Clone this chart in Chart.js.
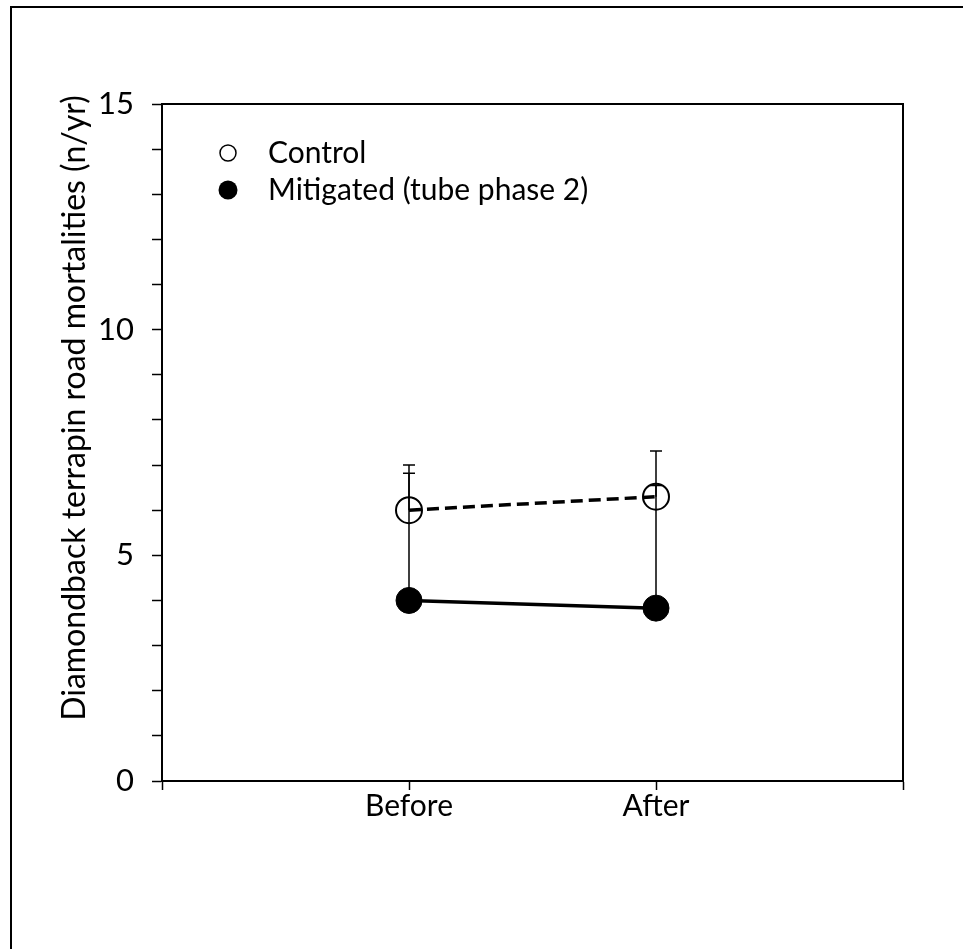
<!DOCTYPE html>
<html>
<head>
<meta charset="utf-8">
<script src="https://cdn.jsdelivr.net/npm/chart.js@4/dist/chart.umd.min.js"></script>
<style>
  html, body { margin: 0; padding: 0; background: #fff; }
  canvas { display: block; }
</style>
</head>
<body>
<canvas id="grafico" width="963" height="949"></canvas>
<script>
// dados
const categorias = ['Before', 'After']
const posicoesX = [1, 2]
const controle = [6.0, 6.3]
const controleErro = [1.0, 0.25]
const mitigado = [4.0, 3.83]
const mitigadoErro = [2.82, 3.48]
const ticksY = [0, 5, 10, 15]
const nomeSeries = ['Control', 'Mitigated (tube phase 2)']
const tituloY = 'Diamondback terrapin road mortalities (n/yr)'

const fonte = 'Lato'

function pontos(valores){
    return valores.map((v, i) => ({x: posicoesX[i], y: v}))
}

// barras de erro (só para cima) + moldura do gráfico + legenda + título do eixo Y
const extras = {
    id: 'extras',
    beforeDatasetsDraw(chart){
        const ctx = chart.ctx
        const xs = chart.scales.x
        const ys = chart.scales.y
        ctx.save()
        ctx.strokeStyle = '#000'
        ctx.lineWidth = 1.5
        chart.data.datasets.forEach(ds => {
            ds.data.forEach((p, i) => {
                const px = xs.getPixelForValue(p.x)
                const y0 = ys.getPixelForValue(p.y)
                const y1 = ys.getPixelForValue(p.y + ds.erros[i])
                ctx.beginPath()
                ctx.moveTo(px, y0)
                ctx.lineTo(px, y1)
                ctx.moveTo(px - 6, y1)
                ctx.lineTo(px + 6, y1)
                ctx.stroke()
            })
        })
        ctx.restore()
    },
    afterDraw(chart){
        const ctx = chart.ctx
        const a = chart.chartArea
        ctx.save()
        ctx.strokeStyle = '#000'
        // moldura de cima e da direita
        ctx.lineWidth = 2
        ctx.beginPath()
        ctx.moveTo(a.left, a.top)
        ctx.lineTo(a.right, a.top)
        ctx.lineTo(a.right, a.bottom)
        ctx.stroke()

        // borda externa da figura
        ctx.lineWidth = 2
        ctx.beginPath()
        ctx.moveTo(11, 949)
        ctx.lineTo(11, 7)
        ctx.lineTo(963, 7)
        ctx.stroke()

        // legenda
        const linhas = [153, 190]
        ctx.font = '30px ' + fonte
        ctx.fillStyle = '#000'
        ctx.textBaseline = 'middle'
        chart.data.datasets.forEach((ds, i) => {
            const y = linhas[i]
            ctx.beginPath()
            if(i === 0){
                ctx.lineWidth = 1.5
                ctx.arc(228, y, 8, 0, Math.PI * 2)
                ctx.stroke()
            } else {
                ctx.arc(228, y, 9.5, 0, Math.PI * 2)
                ctx.fill()
            }
            ctx.fillText(ds.label, 268, y)
        })

        // título do eixo Y
        ctx.translate(75, 408)
        ctx.rotate(-Math.PI / 2)
        ctx.font = '32px ' + fonte
        ctx.textAlign = 'center'
        ctx.textBaseline = 'middle'
        ctx.fillText(tituloY, 0, 0)
        ctx.restore()
    }
}

const ctx = document.getElementById('grafico').getContext('2d')
const grafico = new Chart(ctx, {
    type: 'line',
    data: {
        datasets: [
            {
                label: nomeSeries[0],
                data: pontos(controle),
                erros: controleErro,
                borderColor: '#000',
                borderWidth: 3.5,
                borderDash: [12, 6],
                pointRadius: 13,
                pointBorderWidth: 2,
                pointBorderColor: '#000',
                pointBackgroundColor: 'rgba(0,0,0,0)',
                fill: false
            },
            {
                label: nomeSeries[1],
                data: pontos(mitigado),
                erros: mitigadoErro,
                borderColor: '#000',
                borderWidth: 3.5,
                pointRadius: 13,
                pointBorderWidth: 1,
                pointBorderColor: '#000',
                pointBackgroundColor: '#000',
                fill: false
            }
        ]
    },
    options: {
        responsive: false,
        animation: false,
        layout: {
            padding: {left: 0, top: 104, right: 60, bottom: 108}
        },
        plugins: {
            legend: {display: false},
            tooltip: {enabled: false}
        },
        scales: {
            x: {
                type: 'linear',
                min: 0,
                max: 3,
                afterFit: s => { s.height = 60 },
                afterBuildTicks: s => { s.ticks = [0, 1, 2, 3].map(v => ({value: v})) },
                ticks: {
                    autoSkip: false,
                    maxRotation: 0,
                    padding: -2,
                    color: '#000',
                    font: {family: fonte, size: 30},
                    callback: v => (v >= 1 && v <= categorias.length) ? categorias[v - 1] : ''
                },
                grid: {
                    drawOnChartArea: false,
                    drawTicks: true,
                    tickLength: 9,
                    tickWidth: 1.5,
                    color: '#000'
                },
                border: {display: true, color: '#000', width: 2}
            },
            y: {
                min: 0,
                max: 15,
                afterFit: s => { s.width = 162 },
                afterBuildTicks: s => {
                    const t = []
                    for(let v = 0; v <= 15; v++) t.push({value: v})
                    s.ticks = t
                },
                ticks: {
                    autoSkip: false,
                    padding: 18,
                    color: '#000',
                    font: {family: fonte, size: 31},
                    callback: v => ticksY.includes(v) ? v : ''
                },
                grid: {
                    drawOnChartArea: false,
                    drawTicks: true,
                    tickLength: 10,
                    tickWidth: 1.5,
                    color: '#000'
                },
                border: {display: true, color: '#000', width: 2}
            }
        }
    },
    plugins: [extras]
})
</script>
</body>
</html>
